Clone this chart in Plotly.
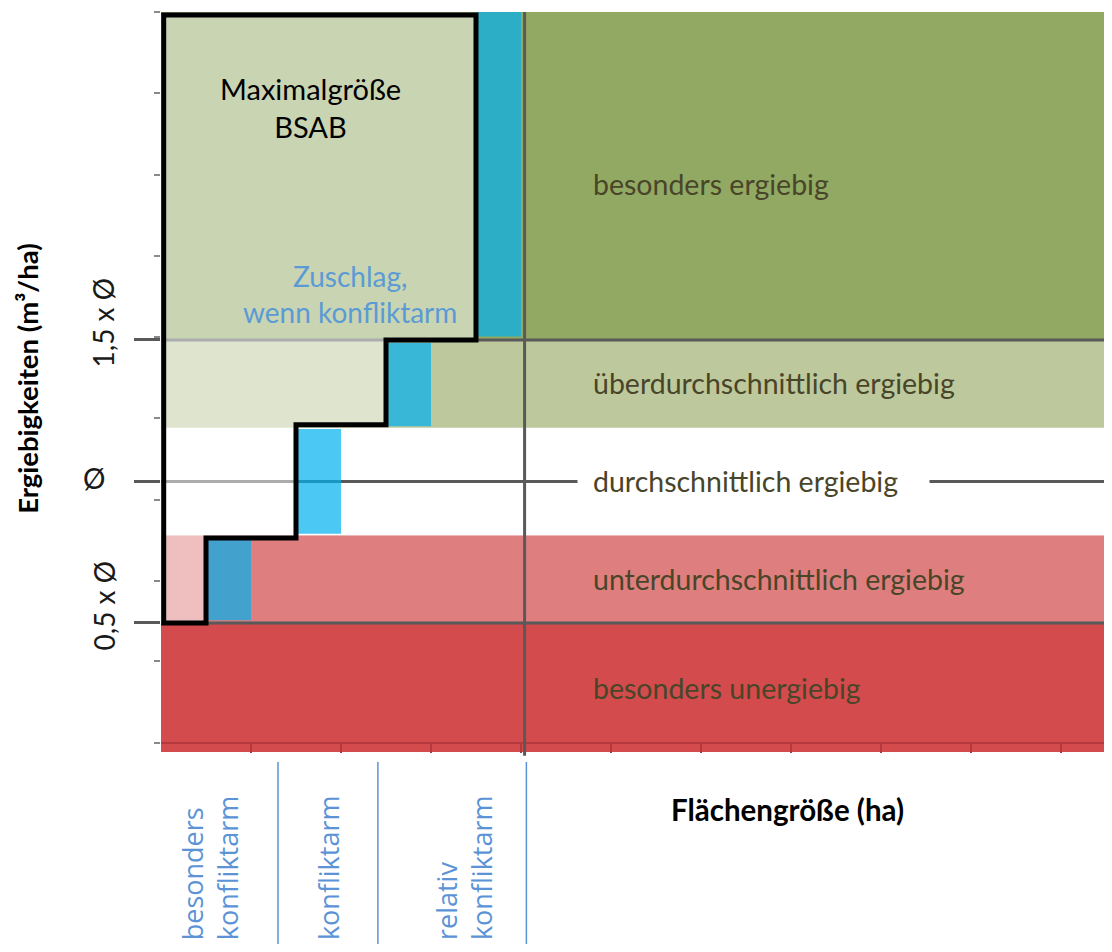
import plotly.graph_objects as go

# ---------------- data ----------------
band_names = ["besonders unergiebig", "unterdurchschnittlich ergiebig",
              "durchschnittlich ergiebig", "überdurchschnittlich ergiebig",
              "besonders ergiebig"]
band_lower = [0.044, 0.5, 0.81, 1.19, 1.5]
band_upper = [0.5, 0.81, 1.19, 1.5, 2.659]
band_label_y = [0.27, 0.655, 1.0, 1.348, 2.05]
band_colors = ["#D34B4D", "#DF7E7E", "#FFFFFF", "#BDC99C", "#92A964"]

ref_levels = [0.5, 1.0, 1.5]
ref_labels = ["0,5 x Ø", "Ø", "1,5 x Ø"]
ref_label_angle = [-90, 0, -90]

# staircase "Maximalgröße BSAB"
step_x = [0.03, 0.5, 1.5, 2.5, 3.5]
step_y = [0.5, 0.8, 1.2, 1.5, 2.648]

# "Zuschlag, wenn konfliktarm"
bonus_x0 = [0.5, 1.5, 2.5, 3.5]
bonus_x1 = [1.0, 2.0, 3.0, 4.0]
bonus_y0 = [0.51, 0.815, 1.195, 1.512]
bonus_y1 = [0.805, 1.185, 1.49, 2.659]

conflict_labels = ["besonders<br>konfliktarm", "konfliktarm", "relativ<br>konfliktarm"]
conflict_label_x = [0.54, 1.86, 3.36]
conflict_bounds = [1.3, 2.41, 4.06]

split_x = 4.04
x_ticks = [1, 2, 3, 4, 5, 6, 7, 8, 9, 10]
y_minor_ticks = [0.076, 0.364, 0.650, 0.936, 1.223, 1.509, 1.797, 2.083, 2.373, 2.659]

X_MAX = 10.478
Y_MIN, Y_MAX = 0.044, 2.659

FONT = "Lato"
TXT = "#494529"
BLUE_TXT = "#5B93D6"
GRAY = "#595959"

fig = go.Figure()
fig.add_trace(go.Scatter(x=[0], y=[1], mode="markers", marker=dict(opacity=0),
                         hoverinfo="skip", showlegend=False))

shapes = []
# bands
for lo, hi, col in zip(band_lower, band_upper, band_colors):
    shapes.append(dict(type="rect", xref="x", yref="y", x0=0, x1=X_MAX, y0=lo, y1=hi,
                       fillcolor=col, line=dict(width=0), layer="below"))
# reference lines
for lv in ref_levels:
    shapes.append(dict(type="line", xref="x", yref="y", x0=0, x1=X_MAX, y0=lv, y1=lv,
                       line=dict(color=GRAY, width=3), layer="below"))
# bonus bars
for a, b, c, d in zip(bonus_x0, bonus_x1, bonus_y0, bonus_y1):
    shapes.append(dict(type="rect", xref="x", yref="y", x0=a, x1=b, y0=c, y1=d,
                       fillcolor="rgba(0,176,240,0.7)", line=dict(width=0), layer="below"))
# staircase polygon (light overlay, drawn from x=0)
path = f"M 0,{step_y[0]}"
for i in range(1, len(step_x)):
    path += f" L {step_x[i]},{step_y[i-1]} L {step_x[i]},{step_y[i]}"
path += f" L 0,{step_y[-1]} Z"
shapes.append(dict(type="path", xref="x", yref="y", path=path,
                   fillcolor="rgba(255,255,255,0.5)", line=dict(width=0), layer="below"))
# staircase outline
outline = f"M {step_x[0]},{step_y[0]}"
for i in range(1, len(step_x)):
    outline += f" L {step_x[i]},{step_y[i-1]} L {step_x[i]},{step_y[i]}"
outline += f" L {step_x[0]},{step_y[-1]} Z"
shapes.append(dict(type="path", xref="x", yref="y", path=outline,
                   line=dict(color="black", width=5), layer="below"))
# vertical split line
shapes.append(dict(type="line", xref="x", yref="paper", x0=split_x, x1=split_x, y0=-0.005, y1=1,
                   line=dict(color=GRAY, width=3), layer="above"))
# blue separators below the chart
for bx in conflict_bounds:
    shapes.append(dict(type="line", xref="x", yref="paper", x0=bx, x1=bx, y0=-0.0135, y1=-0.30,
                       line=dict(color=BLUE_TXT, width=1.5), layer="above"))

annotations = []
for name, ly in zip(band_names, band_label_y):
    ann = dict(x=4.78, y=ly, xref="x", yref="y", text=name, showarrow=False,
               xanchor="left", yanchor="middle", font=dict(family=FONT, size=28.5, color=TXT))
    if name == "durchschnittlich ergiebig":
        ann.update(x=4.622, bgcolor="white", borderpad=15, width=321, align="left")
    annotations.append(ann)

annotations.append(dict(x=1.656, y=2.32, xref="x", yref="y", text="Maximalgröße<br>BSAB",
                        showarrow=False, xanchor="center", yanchor="middle",
                        font=dict(family=FONT, size=29, color="black")))
annotations.append(dict(x=2.1, y=1.663, xref="x", yref="y", text="Zuschlag,<br>wenn konfliktarm",
                        showarrow=False, xanchor="center", yanchor="middle",
                        font=dict(family=FONT, size=28, color="#5B9BD5")))

for lv, lab, ang in zip(ref_levels, ref_labels, ref_label_angle):
    annotations.append(dict(x=-0.061 if ang else -0.071, y=lv, xref="paper", yref="y", text=lab,
                            showarrow=False, textangle=ang, yshift=18 if ang else 3,
                            xanchor="center", yanchor="middle",
                            font=dict(family=FONT, size=28, color="#1A1A1A")))

annotations.append(dict(x=-0.1415, y=0.505, xref="paper", yref="paper",
                        text="<b>Ergiebigkeiten (m³/ha)</b>", showarrow=False, textangle=-90,
                        xanchor="center", yanchor="middle",
                        font=dict(family=FONT, size=27.5, color="black")))
annotations.append(dict(x=6.956, y=-0.078, xref="x", yref="paper",
                        text="<b>Flächengröße (ha)</b>", showarrow=False,
                        xanchor="center", yanchor="middle",
                        font=dict(family=FONT, size=29.5, color="black")))

for lab, lx in zip(conflict_labels, conflict_label_x):
    annotations.append(dict(x=lx, y=-0.257, xref="x", yref="paper", text=lab, showarrow=False,
                            textangle=-90, align="left", xanchor="center", yanchor="bottom",
                            font=dict(family="Open Sans", size=27, color=BLUE_TXT)))

fig.update_layout(
    width=1096, height=936,
    margin=dict(l=153, r=0, t=4, b=192),
    plot_bgcolor="white", paper_bgcolor="white",
    showlegend=False,
    shapes=shapes, annotations=annotations,
    xaxis=dict(range=[0, X_MAX], showgrid=False, zeroline=False, showticklabels=False,
               anchor="free", position=9 / 740, showline=True, linecolor="#B3393C", linewidth=1.5,
               tickmode="array", tickvals=x_ticks, ticks="outside", ticklen=9,
               tickcolor="#B3393C", tickwidth=1.5, automargin=False),
    yaxis=dict(range=[Y_MIN, Y_MAX], showgrid=False, zeroline=False, showticklabels=False,
               showline=False, tickmode="array", tickvals=ref_levels, ticks="outside",
               ticklen=26, tickwidth=3, tickcolor=GRAY, automargin=False,
               minor=dict(tickmode="array", tickvals=y_minor_ticks, ticks="outside",
                          ticklen=6, tickwidth=1.5, tickcolor="#8A8A8A")),
)

fig.write_html("out.html")
